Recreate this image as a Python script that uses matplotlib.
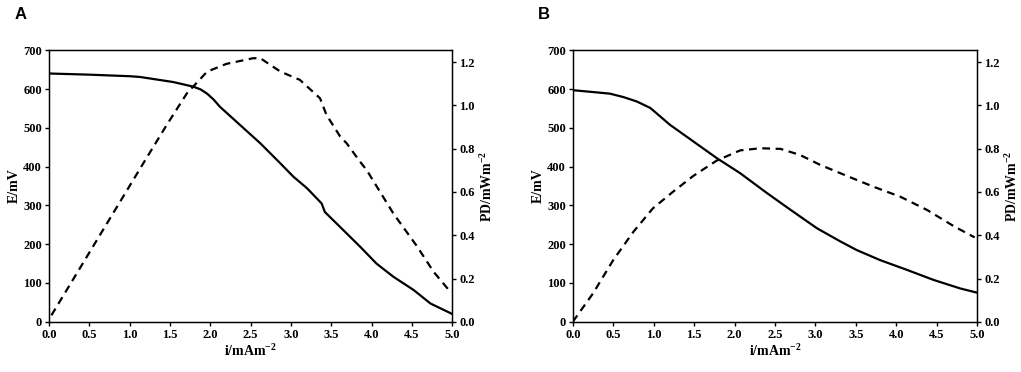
import numpy as np
import matplotlib
matplotlib.use("Agg")
import matplotlib.pyplot as plt
from matplotlib import font_manager as fm

# bold Times-like face; fall back if the bold file is missing
serif = 'Liberation Serif'
f = fm.findfont(fm.FontProperties(family=serif, weight='bold'), fallback_to_default=False)
if 'bold' not in f.lower():
    serif = 'DejaVu Serif'

plt.rcParams['font.family'] = serif
plt.rcParams['font.weight'] = 'bold'
plt.rcParams['mathtext.fontset'] = 'custom'
plt.rcParams['mathtext.rm'] = serif + ':bold'
plt.rcParams['mathtext.it'] = serif + ':bold'
plt.rcParams['mathtext.bf'] = serif + ':bold'

# panel A: cell voltage (mV) and power density (mW m-2) vs current density (mA m-2)
a_i_E = [0.0, 0.5, 1.0, 1.13, 1.54, 1.79, 1.88, 1.96, 2.04, 2.12, 2.37, 2.62, 2.87, 3.03, 3.2, 3.38, 3.42,
         3.65, 3.86, 4.06, 4.27, 4.52, 4.73, 5.0]
a_E = [640, 637, 633, 631, 618, 606, 599, 588, 573, 554, 507, 460, 408, 374, 344, 305, 283,
       236, 193, 150, 116, 82, 47, 20]
a_i_PD = [0.03, 1.17, 1.46, 1.71, 1.96, 2.2, 2.53, 2.62, 2.87, 3.11, 3.36, 3.44, 3.61, 3.69, 3.84,
          3.94, 4.27, 4.56, 4.77, 4.95]
a_PD = [0.03, 0.733, 0.91, 1.056, 1.156, 1.192, 1.218, 1.218, 1.156, 1.118, 1.033, 0.956, 0.856, 0.825, 0.748,
        0.70, 0.50, 0.35, 0.23, 0.15]

# panel B
b_i_E = [0.0, 0.26, 0.46, 0.63, 0.79, 0.96, 1.2, 1.49, 1.78, 2.07, 2.4, 2.69, 3.02, 3.31,
         3.51, 3.8, 4.13, 4.46, 4.79, 5.0]
b_E = [597, 592, 588, 579, 568, 551, 508, 465, 422, 383, 332, 289, 241, 207,
       185, 159, 134, 108, 86, 75]
b_i_PD = [0.0, 0.25, 0.5, 0.75, 0.99, 1.24, 1.49, 1.78, 2.07, 2.32, 2.57, 2.81, 3.06, 3.39, 3.72,
          4.05, 4.38, 4.72, 4.97]
b_PD = [0.0, 0.131, 0.285, 0.416, 0.524, 0.601, 0.674, 0.745, 0.792, 0.802, 0.799, 0.771, 0.725, 0.674, 0.624,
        0.578, 0.517, 0.44, 0.39]

panels = [
    ("A", a_i_E, a_E, a_i_PD, a_PD, [0.048, 0.135, 0.395, 0.73]),
    ("B", b_i_E, b_E, b_i_PD, b_PD, [0.561, 0.135, 0.396, 0.73]),
]

fig = plt.figure(figsize=(10.21, 3.72), dpi=100)

for name, iE, E, iP, P, rect in panels:
    ax = fig.add_axes(rect)
    ax.plot(iE, E, color='black', lw=1.6, solid_joinstyle='round')
    ax.set_xlim(0, 5)
    ax.set_ylim(0, 700)
    xt = np.arange(0, 5.01, 0.5)
    ax.set_xticks(xt)
    ax.set_xticklabels(["%.1f" % v for v in xt], fontweight='bold')
    ax.set_yticks(np.arange(0, 701, 100))
    ax.set_yticklabels([str(v) for v in range(0, 701, 100)], fontweight='bold')
    ax.tick_params(labelsize=9, length=3, width=1, direction='out', pad=2)
    ax.set_xlabel(r"i/mAm$^{-2}$", fontsize=10, fontweight='bold', labelpad=2)
    ax.set_ylabel("E/mV", fontsize=10, fontweight='bold', labelpad=2)
    for s in ax.spines.values():
        s.set_linewidth(1)

    ax2 = ax.twinx()
    ax2.plot(iP, P, color='black', lw=1.6, ls=(0, (3.5, 2.5)))
    ax2.set_ylim(0, 1.255)
    yt = np.arange(0, 1.21, 0.2)
    ax2.set_yticks(yt)
    ax2.set_yticklabels(["%.1f" % v for v in yt], fontweight='bold')
    ax2.tick_params(labelsize=9, length=3, width=1, direction='out', pad=2)
    ax2.set_ylabel(r"PD/mWm$^{-2}$", fontsize=10, fontweight='bold', labelpad=3)

    fig.text(rect[0] - 0.034, 0.962, name, fontsize=12, fontweight='bold',
             family='Liberation Sans', va='center')

fig.savefig("out.png", dpi=100)
